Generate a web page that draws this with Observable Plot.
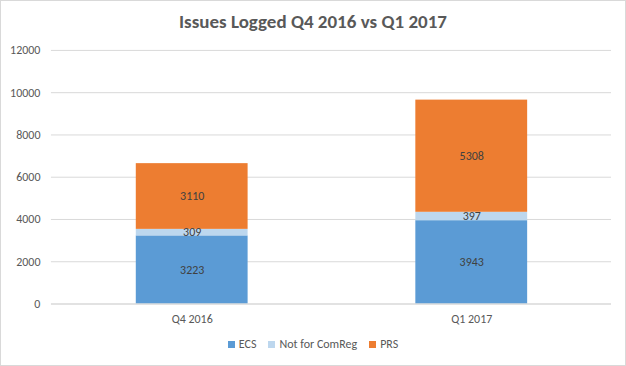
<!DOCTYPE html>
<html>
<head>
<meta charset="utf-8">
<script src="https://cdn.jsdelivr.net/npm/d3@7"></script>
<script src="https://cdn.jsdelivr.net/npm/@observablehq/plot@0.6"></script>
<style>
  body { margin: 0; background: #fff; }
  #chart { position: relative; width: 626px; height: 366px; border: 1px solid #d9d9d9; box-sizing: border-box; overflow: hidden; font-family: Calibri, Carlito, Lato, sans-serif; }
  #title { position: absolute; top: 9px; left: 0; width: 100%; text-align: center; font-size: 19px; font-weight: 600; color: #595959; }
  #plot { position: absolute; top: -1px; left: -1px; }
  #legend { position: absolute; top: 336px; left: 0; width: 100%; display: flex; justify-content: center; gap: 12px; font-size: 12px; color: #595959; }
  .item { display: flex; align-items: center; gap: 4px; }
  .sw { width: 7px; height: 7px; display: inline-block; }
</style>
</head>
<body>
<div id="chart">
  <div id="title">Issues Logged Q4 2016 vs Q1 2017</div>
  <div id="plot"></div>
  <div id="legend"></div>
</div>
<script>
const categories = ["Q4 2016", "Q1 2017"];
const seriesNames = ["ECS", "Not for ComReg", "PRS"];
const ecs = [3223, 3943];
const notForComReg = [309, 397];
const prs = [3110, 5308];
const colors = ["#5B9BD5", "#BDD7EE", "#ED7D31"];
const yTicks = [0, 2000, 4000, 6000, 8000, 10000, 12000];

const seriesValues = [ecs, notForComReg, prs];
const data = [];
seriesNames.forEach((s, si) => {
  categories.forEach((c, ci) => data.push({category: c, series: s, value: seriesValues[si][ci]}));
});

const plot = Plot.plot({
  width: 626,
  height: 366,
  marginTop: 50,
  marginBottom: 62,
  marginLeft: 51,
  marginRight: 14,
  style: {fontFamily: "Calibri, Carlito, Lato, sans-serif", fontSize: "12px", color: "#595959", background: "transparent"},
  x: {domain: categories, paddingInner: 0.6, paddingOuter: 0.3, label: null, tickSize: 0, tickPadding: 10},
  y: {domain: [0, 12000], ticks: yTicks, label: null, tickSize: 0, tickPadding: 11, tickFormat: d => String(d), grid: false},
  color: {domain: seriesNames, range: colors},
  marks: [
    Plot.gridY(yTicks, {stroke: "#d9d9d9", strokeOpacity: 1}),
    Plot.barY(data, Plot.stackY({x: "category", y: "value", fill: "series", order: seriesNames})),
    Plot.text(data, Plot.stackY({x: "category", y: "value", z: "series", order: seriesNames, text: d => String(d.value), fill: "#404040", fontSize: 12, fontWeight: 500})),
    Plot.ruleY([0], {stroke: "#d9d9d9"})
  ]
});
document.getElementById("plot").appendChild(plot);

const legend = document.getElementById("legend");
seriesNames.forEach((s, i) => {
  const item = document.createElement("span");
  item.className = "item";
  const sw = document.createElement("span");
  sw.className = "sw";
  sw.style.background = colors[i];
  const t = document.createElement("span");
  t.textContent = s;
  item.appendChild(sw);
  item.appendChild(t);
  legend.appendChild(item);
});
</script>
</body>
</html>
